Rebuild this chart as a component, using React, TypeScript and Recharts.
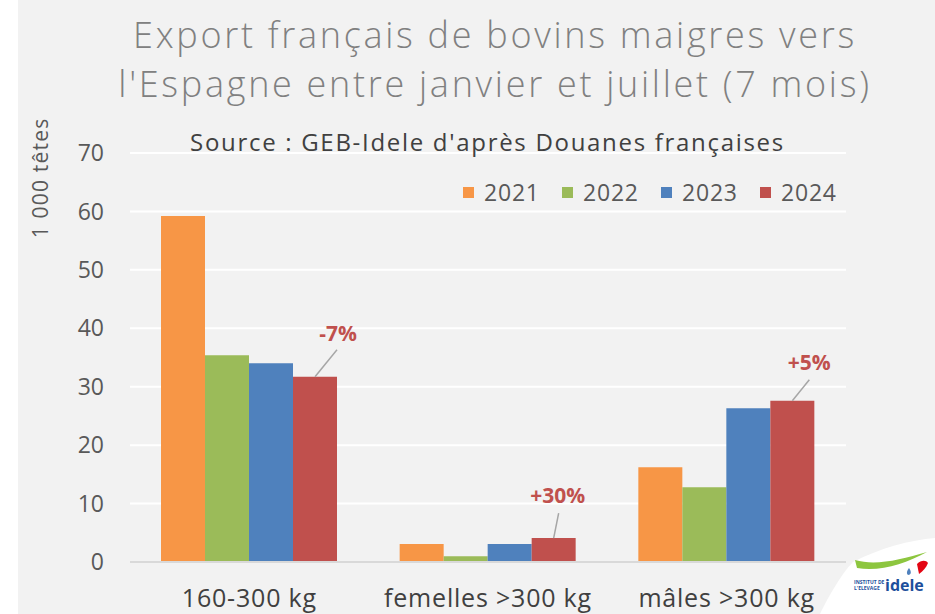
import React from "react";
import { BarChart, Bar, XAxis, YAxis, CartesianGrid, LabelList } from "recharts";

const categories = ["160-300 kg", "femelles >300 kg", "mâles >300 kg"];
const v2021 = [59.2, 3.1, 16.2];
const v2022 = [35.4, 1.0, 12.8];
const v2023 = [34.0, 3.1, 26.3];
const v2024 = [31.7, 4.1, 27.6];
const changeLabels = ["-7%", "+30%", "+5%"];
const yTicks = [0, 10, 20, 30, 40, 50, 60, 70];
const years = ["2021", "2022", "2023", "2024"];
const colors = ["#F79646", "#9BBB59", "#4F81BD", "#C0504D"];

// label placement relative to the top-centre of the 2024 bar
const labelOffsets = [
  { tx: 23, ty: -44, lx: 22, ly: -27 },
  { tx: 4, ty: -43, lx: 5, ly: -25 },
  { tx: 17, ty: -39, lx: 17, ly: -21 },
];

const data = categories.map((c, i) => ({
  name: c,
  y2021: v2021[i],
  y2022: v2022[i],
  y2023: v2023[i],
  y2024: v2024[i],
  change: changeLabels[i],
}));

const FONT = "'Open Sans', 'DejaVu Sans', sans-serif";

const ChangeLabel = (props: any) => {
  const { x, y, width, index, value } = props;
  const o = labelOffsets[index];
  const cx = x + width / 2;
  return (
    <g>
      <line x1={cx + o.lx} y1={y + o.ly} x2={cx} y2={y} stroke="#a6a6a6" strokeWidth={1.5} />
      <text
        x={cx + o.tx}
        y={y + o.ty}
        textAnchor="middle"
        dominantBaseline="central"
        fill="#C0504D"
        fontWeight="bold"
        fontSize={21}
        fontFamily={FONT}
      >
        {value}
      </text>
    </g>
  );
};

const XTick = (props: any) => {
  const { x, y, payload } = props;
  return (
    <text x={x} y={y + 27} textAnchor="middle" dominantBaseline="central" fill="#404040" fontSize={25} letterSpacing={0.8} fontFamily={FONT}>
      {payload.value}
    </text>
  );
};

export default function App() {
  return (
    <div style={{ position: "absolute", left: 0, top: 0, width: 935, height: 614, background: "#ffffff", overflow: "hidden", fontFamily: FONT }}>
      <div style={{ position: "absolute", left: 18, top: 0, width: 917, height: 614, background: "#f2f2f2" }} />
      <div style={{ position: "absolute", left: 0, top: 0 }}>
        <BarChart
          width={935}
          height={614}
          data={data}
          margin={{ top: 153, right: 89, bottom: 12, left: 70 }}
          barGap={0}
          barSize={44}
        >
          <CartesianGrid vertical={false} stroke="#ffffff" strokeWidth={2} />
          <XAxis
            dataKey="name"
            height={40}
            tickLine={false}
            axisLine={{ stroke: "#d9d9d9", strokeWidth: 2 }}
            tick={<XTick />}
            interval={0}
          />
          <YAxis
            width={60}
            domain={[0, 70]}
            ticks={yTicks}
            tickLine={false}
            axisLine={false}
            tickSize={0}
            tickMargin={26}
            tick={{ fill: "#595959", fontSize: 23, fontFamily: FONT }}
          />
          <Bar dataKey="y2021" fill={colors[0]} isAnimationActive={false} />
          <Bar dataKey="y2022" fill={colors[1]} isAnimationActive={false} />
          <Bar dataKey="y2023" fill={colors[2]} isAnimationActive={false} />
          <Bar dataKey="y2024" fill={colors[3]} isAnimationActive={false}>
            <LabelList dataKey="change" content={<ChangeLabel />} />
          </Bar>
        </BarChart>
      </div>
      {/* Title */}
      <div style={{ position: "absolute", left: 0, width: 990, top: 10, textAlign: "center", color: "#808080", fontSize: 36, fontWeight: 300, letterSpacing: 2.7, lineHeight: "49px", whiteSpace: "nowrap" }}>
        <div style={{ height: 49 }}>Export français de bovins maigres vers</div>
        <div style={{ height: 49 }}>l'Espagne entre janvier et juillet (7 mois)</div>
      </div>
      {/* Source */}
      <div style={{ position: "absolute", left: 0, width: 975, top: 125, textAlign: "center", color: "#404040", fontSize: 24, letterSpacing: 1.7, whiteSpace: "nowrap" }}>
        Source : GEB-Idele d'après Douanes françaises
      </div>
      {/* Legend */}
      <div style={{ position: "absolute", left: 463, top: 176, display: "flex", alignItems: "center", color: "#595959", fontSize: 23, letterSpacing: 0.8 }}>
        {years.map((yr, i) => (
          <div key={yr} style={{ display: "flex", alignItems: "center", width: 99 }}>
            <div style={{ width: 11, height: 11, background: colors[i], marginRight: 10 }} />
            <span>{yr}</span>
          </div>
        ))}
      </div>
      {/* Y label */}
      <div style={{ position: "absolute", left: 40, top: 178, transform: "translate(-50%, -50%) rotate(-90deg)", color: "#595959", fontSize: 21, letterSpacing: 1.2, whiteSpace: "nowrap" }}>
        1 000 têtes
      </div>
      {/* Logo */}
      <svg style={{ position: "absolute", left: 820, top: 530 }} width={115} height={84}>
        <path d="M33 32 C 60 18, 90 10, 115 8 L 115 84 L 0 84 C 4 75, 20 45, 33 32 Z" fill="#ffffff" />
        <path d="M35 30 C 55 36, 80 30, 107 22 C 85 34, 60 42, 37 38 Z" fill="#8DC63F" />
        <path d="M97 34 C 101 30, 106 30, 108 33 C 106 38, 103 41, 99 44 Z" fill="#E30613" />
        <path d="M89 38 C 87 41, 86 43, 88 45 C 91 45, 92 42, 89 38 Z" fill="#4F81BD" />
        <text x={34} y={54} fontSize={5} fontWeight="bold" fill="#1D4F9C" fontFamily={FONT}>INSTITUT DE</text>
        <text x={34} y={60} fontSize={5} fontWeight="bold" fill="#1D4F9C" fontFamily={FONT}>L'ELEVAGE</text>
        <text x={65} y={61} fontSize={16} fontWeight="bold" fill="#1D4F9C" fontFamily={FONT}>idele</text>
      </svg>
    </div>
  );
}
